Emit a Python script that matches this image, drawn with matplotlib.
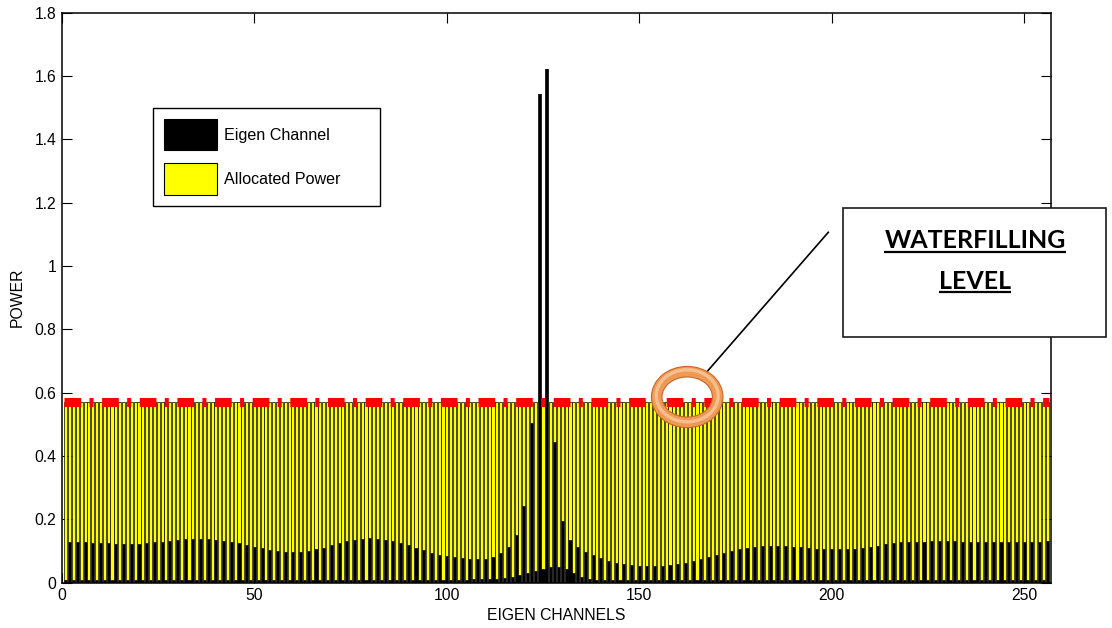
import numpy as np
import matplotlib
matplotlib.use("Agg")
import matplotlib.pyplot as plt
from matplotlib.patches import Rectangle, Ellipse
from matplotlib.lines import Line2D

plt.rcParams['font.family'] = ['Liberation Sans', 'DejaVu Sans']
plt.rcParams['lines.scale_dashes'] = False

W, H = 1112, 628

# Eigen-channel noise levels on the even channels (2, 4, ..., 256)
even_channels = np.arange(2, 257, 2)
even_noise = [
    0.128, 0.128, 0.127, 0.126, 0.125, 0.124, 0.123, 0.122, 0.122, 0.123,
    0.125, 0.127, 0.130, 0.133, 0.136, 0.138, 0.139, 0.139, 0.138, 0.136,
    0.133, 0.129, 0.124, 0.119, 0.114, 0.109, 0.104, 0.100, 0.097, 0.096,
    0.097, 0.100, 0.105, 0.111, 0.118, 0.125, 0.131, 0.136, 0.139, 0.140,
    0.139, 0.136, 0.131, 0.125, 0.118, 0.110, 0.102, 0.095, 0.089, 0.084,
    0.080, 0.077, 0.075, 0.074, 0.074, 0.082, 0.093, 0.114, 0.151, 0.242,
    0.503, 1.542, 1.621, 0.445, 0.196, 0.135, 0.114, 0.098, 0.087, 0.077,
    0.069, 0.063, 0.059, 0.056, 0.054, 0.053, 0.053, 0.054, 0.056, 0.059,
    0.063, 0.068, 0.074, 0.081, 0.088, 0.095, 0.101, 0.106, 0.110, 0.113,
    0.115, 0.116, 0.116, 0.115, 0.114, 0.112, 0.110, 0.108, 0.107, 0.106,
    0.105, 0.105, 0.105, 0.110, 0.113, 0.117, 0.122, 0.124, 0.127, 0.128,
    0.129, 0.130, 0.131, 0.131, 0.131, 0.131, 0.130, 0.129, 0.128, 0.128,
    0.128, 0.128, 0.129, 0.129, 0.130, 0.130, 0.130, 0.131,
]

# Eigen-channel noise levels on the odd channels (1, 3, ..., 255)
odd_channels = np.arange(1, 256, 2)
odd_noise = [
    0.010, 0.010, 0.010, 0.010, 0.010, 0.010, 0.010, 0.010, 0.010, 0.010,
    0.010, 0.010, 0.010, 0.010, 0.010, 0.010, 0.010, 0.010, 0.010, 0.010,
    0.010, 0.010, 0.010, 0.010, 0.010, 0.010, 0.010, 0.010, 0.010, 0.010,
    0.010, 0.010, 0.010, 0.010, 0.010, 0.010, 0.010, 0.010, 0.010, 0.010,
    0.010, 0.010, 0.010, 0.010, 0.010, 0.010, 0.010, 0.010, 0.010, 0.010,
    0.010, 0.010, 0.010, 0.011, 0.012, 0.012, 0.013, 0.014, 0.019, 0.024,
    0.030, 0.038, 0.042, 0.049, 0.051, 0.042, 0.030, 0.019, 0.013, 0.009,
    0.008, 0.008, 0.008, 0.008, 0.008, 0.008, 0.008, 0.008, 0.008, 0.008,
    0.008, 0.008, 0.008, 0.008, 0.008, 0.008, 0.008, 0.008, 0.008, 0.008,
    0.008, 0.008, 0.008, 0.008, 0.008, 0.008, 0.008, 0.008, 0.008, 0.008,
    0.008, 0.008, 0.008, 0.008, 0.008, 0.008, 0.008, 0.008, 0.008, 0.008,
    0.008, 0.008, 0.008, 0.008, 0.008, 0.008, 0.008, 0.008, 0.008, 0.008,
    0.008, 0.008, 0.008, 0.008, 0.008, 0.008, 0.008, 0.008,
]

water_level = 0.57

x_ticks = [0, 50, 100, 150, 200, 250]
y_ticks = [0, 0.2, 0.4, 0.6, 0.8, 1.0, 1.2, 1.4, 1.6, 1.8]
y_tick_labels = ['0', '0.2', '0.4', '0.6', '0.8', '1', '1.2', '1.4', '1.6', '1.8']
legend_labels = ['Eigen Channel', 'Allocated Power']

# interleave into one channel axis
channels = np.concatenate([odd_channels, even_channels])
noise = np.concatenate([odd_noise, even_noise])
order = np.argsort(channels)
channels = channels[order]
noise = noise[order]
# waterfilling: power fills from the noise floor up to the water level
power = np.clip(water_level - noise, 0, None)


def fx(px):
    return px / W


def fy(py):
    return 1 - py / H


fig = plt.figure(figsize=(W / 100, H / 100), dpi=100)
ax = fig.add_axes([fx(62), fy(582.7), fx(1051) - fx(62), fy(12.7) - fy(582.7)])

bar_w = 0.8
ax.bar(channels, noise, width=bar_w, color='black', edgecolor='black',
       linewidth=0.5, label=legend_labels[0], zorder=2)
ax.bar(channels, power, bottom=noise, width=bar_w, color='#FFFF00',
       edgecolor='black', linewidth=0.5, label=legend_labels[1], zorder=2)

ax.plot([channels[0] - bar_w / 2, channels[-1] + bar_w / 2],
        [water_level, water_level], color='#FF0000', linewidth=6.5,
        linestyle=(0, (12.0, 6.0, 2.9, 6.2)), dash_capstyle='butt', zorder=4)

ax.set_xlim(0, 257)
ax.set_ylim(0, 1.8)
ax.set_xticks(x_ticks)
ax.set_xticklabels([str(t) for t in x_ticks])
ax.set_yticks(y_ticks)
ax.set_yticklabels(y_tick_labels)
ax.tick_params(direction='in', length=7, width=0.8, top=True, right=True,
               labelsize=11.3, pad=4, colors='black')
for sp in ax.spines.values():
    sp.set_linewidth(1.1)
    sp.set_color('black')

ax.set_xlabel('EIGEN CHANNELS', fontsize=11.3)
ax.set_ylabel('POWER', fontsize=11.3)
ax.xaxis.set_label_coords(0.5, -(608.5 - 582.7) / 570)
ax.yaxis.set_label_coords((25 - 62) / 989, 0.5)

leg = ax.legend(loc='upper left', mode='expand',
                bbox_to_anchor=(fx(153), fy(207), fx(380) - fx(153), fy(108) - fy(207)),
                bbox_transform=fig.transFigure, borderaxespad=0,
                fontsize=11.6, handlelength=3.3, handleheight=2.6,
                handletextpad=0.4, labelspacing=0.8, borderpad=0.7,
                fancybox=False, framealpha=1, edgecolor='black')
leg.get_frame().set_linewidth(1.0)
for h in leg.legend_handles:
    h.set_edgecolor('black')
    h.set_linewidth(0.8)

# callout box
box = Rectangle((fx(843), fy(337)), fx(1106) - fx(843), fy(208) - fy(337),
                transform=fig.transFigure, facecolor='white', edgecolor='#1a1a1a',
                linewidth=1.2, zorder=5)
fig.add_artist(box)

t1 = fig.text(fx(975), fy(248.3), 'WATERFILLING', ha='center', va='baseline',
              fontsize=18, fontweight='bold', family=['Lato', 'DejaVu Sans'], zorder=6)
t2 = fig.text(fx(975), fy(289.3), 'LEVEL', ha='center', va='baseline',
              fontsize=18, fontweight='bold', family=['Lato', 'DejaVu Sans'], zorder=6)

fig.canvas.draw()
for t, uy in ((t1, 251.9), (t2, 292.0)):
    bb = t.get_window_extent()
    fig.add_artist(Line2D([bb.x0 / W, bb.x1 / W], [fy(uy), fy(uy)],
                          transform=fig.transFigure, color='black',
                          linewidth=1.6, solid_capstyle='butt', zorder=6))

# pointer line from callout to the water level
fig.add_artist(Line2D([fx(828.3), fx(707)], [fy(232.3), fy(371.7)],
                      transform=fig.transFigure, color='black', linewidth=1.2, zorder=6))

# orange ring marking the water level
cx, cy = fx(687.2), fy(397)
fig.add_artist(Ellipse((cx, cy), 61 / W, 50.6 / H, transform=fig.transFigure,
                       fill=False, edgecolor='#C9682A', linewidth=8.4, zorder=7))
fig.add_artist(Ellipse((cx, cy), 61 / W, 50.6 / H, transform=fig.transFigure,
                       fill=False, edgecolor='#EE9A57', linewidth=6.8, zorder=7))
fig.add_artist(Ellipse((cx, cy + 1.2 / H), 62 / W, 52 / H, transform=fig.transFigure,
                       fill=False, edgecolor='#F8BE8C', linewidth=2.4, zorder=7))

fig.savefig('out.png', dpi=100)
